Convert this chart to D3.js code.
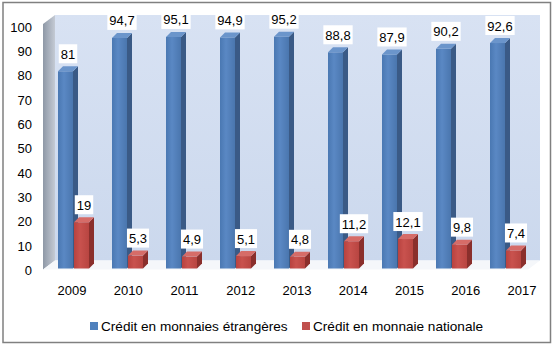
<!DOCTYPE html>
<html><head><meta charset="utf-8">
<script src="https://cdn.jsdelivr.net/npm/d3@7"></script>
<style>body{margin:0;background:#fff}svg{display:block;font-family:Arial,"Liberation Sans",sans-serif}</style>
</head><body><svg id="c" width="554" height="345"></svg>
<script>
const years = ['2009','2010','2011','2012','2013','2014','2015','2016','2017'];
const foreign = [81,94.7,95.1,94.9,95.2,88.8,87.9,90.2,92.6];
const national = [19,5.3,4.9,5.1,4.8,11.2,12.1,9.8,7.4];
const yTicks = [0,10,20,30,40,50,60,70,80,90,100];
const seriesNames = ['Crédit en monnaies étrangères','Crédit en monnaie nationale'];
const colors = ['#4f81bd','#c0504d'];

const svg = d3.select('#c');
const defs = svg.append('defs');
function lin(id, stops, x2, y2){
  const g = defs.append('linearGradient').attr('id',id).attr('x1',0).attr('y1',0).attr('x2',x2).attr('y2',y2);
  stops.forEach(s=>g.append('stop').attr('offset',s[0]).attr('stop-color',s[1]));
}
lin('wall',[[0,'#d8e2f3'],[1,'#cbd8ed']],0,1);
lin('side',[[0,'#8e98a6'],[1,'#c4cad4']],1,0);
lin('bfront',[[0,'#4a78b2'],[0.4,'#5a88c4'],[1,'#4a76ae']],1,0);
lin('rfront',[[0,'#b8423f'],[0.4,'#c9524e'],[1,'#b84541']],1,0);

svg.append('rect').attr('x',3).attr('y',2.5).attr('width',547.5).attr('height',340)
  .attr('fill','#fff').attr('stroke','#808080').attr('stroke-width',1.5);

const y = d3.scaleLinear().domain([0,100]).range([268.5,25]);
const xl = d3.scaleBand().domain(years).range([43.9,43.9+56.25*9]);
const xb = d3.scaleBand().domain(years).range([50,50+54*9]);
const DX = 12, DY = -9;
const bdx = 5, bdy = -5;
const bw = 15;

const wallL = 55, wallR = 540, wallTop = 15, floorBack = y(0)+DY+1;
svg.append('rect').attr('x',wallL).attr('y',wallTop).attr('width',wallR-wallL).attr('height',floorBack-wallTop).attr('fill','url(#wall)');
svg.append('path').attr('d',`M${wallL-DX},${wallTop-DY} L${wallL},${wallTop} L${wallL},${floorBack} L${wallL-DX},${floorBack-DY} Z`).attr('fill','url(#side)');
svg.append('path').attr('d',`M${wallL},${floorBack} L${wallR},${floorBack} L${wallR-DX},${floorBack-DY} L${wallL-DX},${floorBack-DY} Z`).attr('fill','#f5f7fa');

svg.append('g').selectAll('text').data(yTicks).join('text')
  .attr('x',32).attr('y',d=>y(d)+2).attr('dy','0.35em').attr('text-anchor','end')
  .attr('font-size',13).attr('fill','#000').text(d=>d);

svg.append('g').selectAll('text').data(years).join('text')
  .attr('x',d=>xl(d)+xl.bandwidth()/2).attr('y',290).attr('dy','0.35em').attr('text-anchor','middle')
  .attr('font-size',13).attr('fill','#000').text(d=>d);

const fmt = v => String(v).replace('.',',');
function bar(g, x0, v, front, side, top){
  const yt = y(v), yb = y(0);
  g.append('path').attr('d',`M${x0+bw},${yt} L${x0+bw+bdx},${yt+bdy} L${x0+bw+bdx},${yb+bdy} L${x0+bw},${yb} Z`).attr('fill',side);
  g.append('rect').attr('x',x0).attr('y',yt).attr('width',bw).attr('height',yb-yt).attr('fill',front);
  g.append('path').attr('d',`M${x0},${yt} L${x0+bdx},${yt+bdy} L${x0+bw+bdx},${yt+bdy} L${x0+bw},${yt} Z`).attr('fill',top);
}
function label(g, cx, v){
  const yt = y(v) - 8;
  const t = g.append('text').attr('x',cx).attr('y',yt-4.5).attr('text-anchor','middle')
    .attr('font-size',13).attr('fill','#000').text(fmt(v));
  const bb = t.node().getBBox();
  g.insert('rect','text').attr('x',bb.x-2).attr('y',yt-19).attr('width',bb.width+4).attr('height',19).attr('fill','#fff');
}
const barsG = svg.append('g');
years.forEach((yr,i)=>{
  const bx = xb(yr)+8;
  bar(barsG, bx, foreign[i], 'url(#bfront)', '#3a5a86', '#6b95cb');
  bar(barsG, bx+16, national[i], 'url(#rfront)', '#8a2f2c', '#d66c68');
});
const labG = svg.append('g');
years.forEach((yr,i)=>{
  const bx = xb(yr)+8;
  const g1 = labG.append('g'); label(g1, bx+bw/2+2.5, foreign[i]);
  const g2 = labG.append('g'); label(g2, bx+16+bw/2+2.5, national[i]);
});

const leg = svg.append('g');
const legX = [90,302];
seriesNames.forEach((n,i)=>{
  leg.append('rect').attr('x',legX[i]).attr('y',322).attr('width',8).attr('height',8).attr('fill',colors[i]);
  leg.append('text').attr('x',legX[i]+11).attr('y',326).attr('dy','0.35em').attr('font-size',13.6).attr('fill','#000').text(n);
});
</script></body></html>
